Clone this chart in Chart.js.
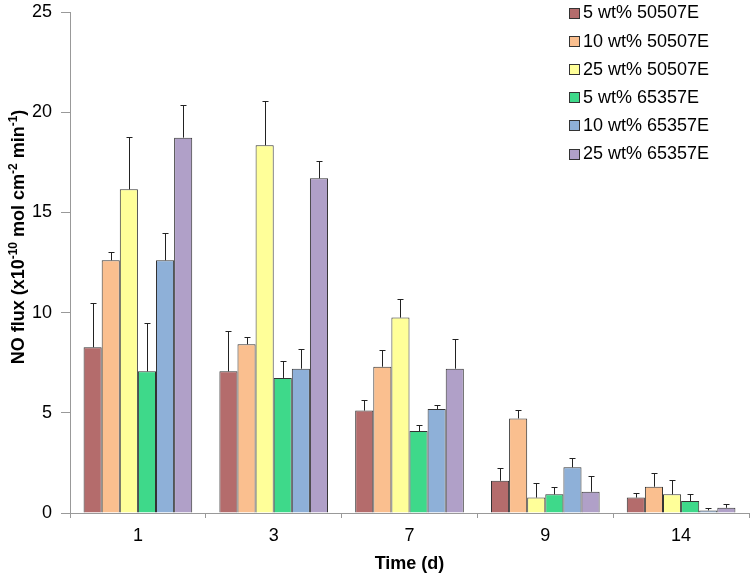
<!DOCTYPE html>
<html>
<head>
<meta charset="utf-8">
<script src="https://cdn.jsdelivr.net/npm/chart.js@4.4.1/dist/chart.umd.min.js"></script>
<style>
  html, body { margin: 0; padding: 0; background: #fff; }
  #wrap { width: 754px; height: 580px; position: relative; }
</style>
</head>
<body>
<div id="wrap"><canvas id="c" width="754" height="580"></canvas></div>
<script>
const categories = ["1", "3", "7", "9", "14"];
const seriesLabels = ["5 wt% 50507E", "10 wt% 50507E", "25 wt% 50507E", "5 wt% 65357E", "10 wt% 65357E", "25 wt% 65357E"];
const s5_50507  = [8.27, 7.07, 5.11, 1.61, 0.77];
const s10_50507 = [12.61, 8.42, 7.30, 4.72, 1.31];
const s25_50507 = [16.15, 18.35, 9.75, 0.77, 0.93];
const s5_65357  = [7.07, 6.74, 4.09, 0.93, 0.60];
const s10_65357 = [12.61, 7.20, 5.19, 2.28, 0.13];
const s25_65357 = [18.73, 16.70, 7.20, 1.06, 0.26];
const e5_50507  = [2.19, 2.00, 0.51, 0.62, 0.21];
const e10_50507 = [0.39, 0.35, 0.85, 0.44, 0.67];
const e25_50507 = [2.60, 2.19, 0.91, 0.71, 0.70];
const e5_65357  = [2.43, 0.86, 0.32, 0.35, 0.33];
const e10_65357 = [1.36, 1.00, 0.21, 0.48, 0.13];
const e25_65357 = [1.61, 0.85, 1.50, 0.77, 0.20];
const yTicks = [0, 5, 10, 15, 20, 25];

const seriesValues = [s5_50507, s10_50507, s25_50507, s5_65357, s10_65357, s25_65357];
const seriesErrors = [e5_50507, e10_50507, e25_50507, e5_65357, e10_65357, e25_65357];
const colors = ["#B46C6C", "#FABF8F", "#FFFF99", "#3ED98A", "#8EB0D8", "#B0A0C8"];

const FONT = "'Liberation Sans', Arial, sans-serif";

const errorBarPlugin = {
  id: 'errorBars',
  afterDatasetsDraw(chart) {
    const ctx = chart.ctx;
    const y = chart.scales.y;
    ctx.save();
    ctx.strokeStyle = '#222';
    ctx.lineWidth = 1;
    chart.data.datasets.forEach((ds, i) => {
      const meta = chart.getDatasetMeta(i);
      meta.data.forEach((bar, j) => {
        const v = ds.data[j];
        const e = ds.errors[j];
        const x = Math.round(bar.x) + 0.5;
        const y0 = y.getPixelForValue(v);
        const y1 = Math.round(y.getPixelForValue(v + e)) + 0.5;
        ctx.beginPath();
        ctx.moveTo(x, y0);
        ctx.lineTo(x, y1);
        ctx.moveTo(x - 3, y1);
        ctx.lineTo(x + 3, y1);
        ctx.stroke();
      });
    });
    ctx.restore();
  }
};

const legendPlugin = {
  id: 'customLegend',
  afterDraw(chart) {
    const ctx = chart.ctx;
    ctx.save();
    ctx.font = "18px " + FONT;
    ctx.textBaseline = 'middle';
    ctx.textAlign = 'left';
    chart.data.datasets.forEach((ds, i) => {
      const cy = 12.5 + i * 28.2;
      ctx.fillStyle = ds.backgroundColor;
      ctx.fillRect(569.5, Math.round(cy) - 5 + 0.5, 10, 10);
      ctx.strokeStyle = '#333';
      ctx.lineWidth = 1;
      ctx.strokeRect(569.5, Math.round(cy) - 5 + 0.5, 10, 10);
      ctx.fillStyle = '#000';
      ctx.fillText(ds.label, 583, cy + 1);
    });
    ctx.restore();
  }
};

const yTitlePlugin = {
  id: 'yTitle',
  afterDraw(chart) {
    const ctx = chart.ctx;
    const parts = [
      ["NO flux (x10", false], ["-10", true], [" mol cm", false], ["-2", true], [" min", false], ["-1", true], [")", false]
    ];
    const big = "bold 18px " + FONT;
    const small = "bold 12px " + FONT;
    ctx.save();
    let total = 0;
    parts.forEach(p => { ctx.font = p[1] ? small : big; total += ctx.measureText(p[0]).width; });
    ctx.translate(24, 237);
    ctx.rotate(-Math.PI / 2);
    ctx.fillStyle = '#000';
    ctx.textBaseline = 'alphabetic';
    ctx.textAlign = 'left';
    let x = -total / 2;
    parts.forEach(p => {
      ctx.font = p[1] ? small : big;
      ctx.fillText(p[0], x, p[1] ? -7 : 0);
      x += ctx.measureText(p[0]).width;
    });
    ctx.restore();
  }
};

new Chart(document.getElementById('c'), {
  type: 'bar',
  data: {
    labels: categories,
    datasets: seriesLabels.map((lab, i) => ({
      label: lab,
      data: seriesValues[i],
      errors: seriesErrors[i],
      backgroundColor: colors[i],
      borderColor: '#333',
      borderWidth: 1,
      barPercentage: 1.0,
      categoryPercentage: 0.8
    }))
  },
  options: {
    responsive: false,
    animation: false,
    devicePixelRatio: 1,
    layout: { padding: { top: 12, right: 5, left: 0, bottom: 0 } },
    plugins: {
      legend: { display: false },
      tooltip: { enabled: false }
    },
    scales: {
      x: {
        offset: true,
        grid: { offset: true, drawOnChartArea: false, drawTicks: true, tickLength: 5, color: '#999' },
        border: { color: '#999', width: 1 },
        ticks: { color: '#000', font: { size: 18, family: FONT }, padding: 7 },
        title: { display: true, text: 'Time (d)', color: '#000', font: { size: 18, weight: 'bold', family: FONT }, padding: { top: 0, bottom: 5 } },
        afterFit(scale) { scale.height = 67; scale.paddingLeft = 0; scale.paddingRight = 0; }
      },
      y: {
        min: 0, max: 25,
        afterBuildTicks(scale) { scale.ticks = yTicks.map(v => ({ value: v })); },
        grid: { drawOnChartArea: false, drawTicks: true, tickLength: 9, color: '#999' },
        border: { color: '#999', width: 1 },
        ticks: { color: '#000', font: { size: 18, family: FONT }, padding: 9 },
        afterFit(scale) { scale.width = 70; scale.paddingTop = 0; scale.paddingBottom = 0; }
      }
    }
  },
  plugins: [errorBarPlugin, legendPlugin, yTitlePlugin]
});
</script>
</body>
</html>
